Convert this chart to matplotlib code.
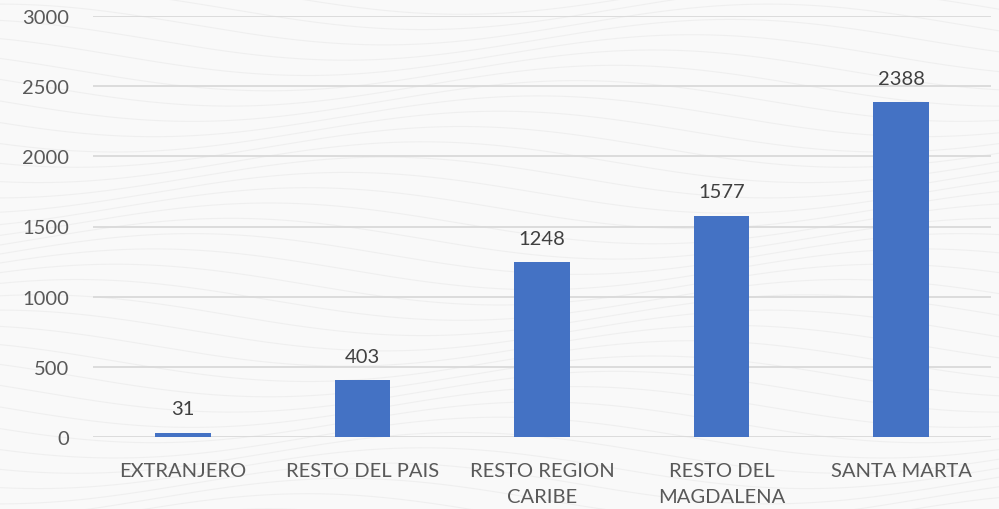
import matplotlib.pyplot as plt
import numpy as np

categorias = ['EXTRANJERO', 'RESTO DEL PAIS', 'RESTO REGION\nCARIBE', 'RESTO DEL\nMAGDALENA', 'SANTA MARTA']
valores = [31, 403, 1248, 1577, 2388]
marcas_y = [0, 500, 1000, 1500, 2000, 2500, 3000]

plt.rcParams['font.family'] = ['Lato', 'DejaVu Sans']

fig = plt.figure(figsize=(9.99, 5.10), dpi=100, facecolor='#f9f9f9')

# fondo ondulado suave (decorativo)
bg = fig.add_axes([0, 0, 1, 1], zorder=0)
bg.set_xlim(0, 1)
bg.set_ylim(0, 1)
bg.axis('off')
t = np.linspace(0, 1, 400)
for k in range(40):
    bg.plot(t, 1.1 - k * 0.03 + 0.04 * np.sin(2 * np.pi * (t * 1.3 + k * 0.05)),
            color='#e6e6e6', lw=0.8, alpha=0.5)

ax = fig.add_axes([93 / 999, 1 - 438 / 510, 898 / 999, 421 / 510], zorder=1)
ax.patch.set_alpha(0)

x = np.arange(len(categorias))
barras = ax.bar(x, valores, width=0.31, color='#4472C4', zorder=3)
for b, v in zip(barras, valores):
    ax.annotate(str(v), (b.get_x() + b.get_width() / 2, v), xytext=(0, 11),
                textcoords='offset points', ha='center', va='bottom',
                fontsize=14.5, color='#404040')

ax.set_xlim(-0.5, len(categorias) - 0.5)
ax.set_ylim(0, 3000)
ax.set_yticks(marcas_y)
ax.set_xticks(x)
ax.set_xticklabels(categorias, linespacing=1.65)
ax.yaxis.grid(True, color='#d9d9d9', lw=1.3, zorder=0)
ax.set_axisbelow(True)
for s in ax.spines.values():
    s.set_visible(False)
ax.tick_params(axis='both', length=0, labelsize=14.5, labelcolor='#595959')
ax.tick_params(axis='y', pad=17)
ax.tick_params(axis='x', pad=18)

fig.savefig('out.png', dpi=100, facecolor=fig.get_facecolor())
